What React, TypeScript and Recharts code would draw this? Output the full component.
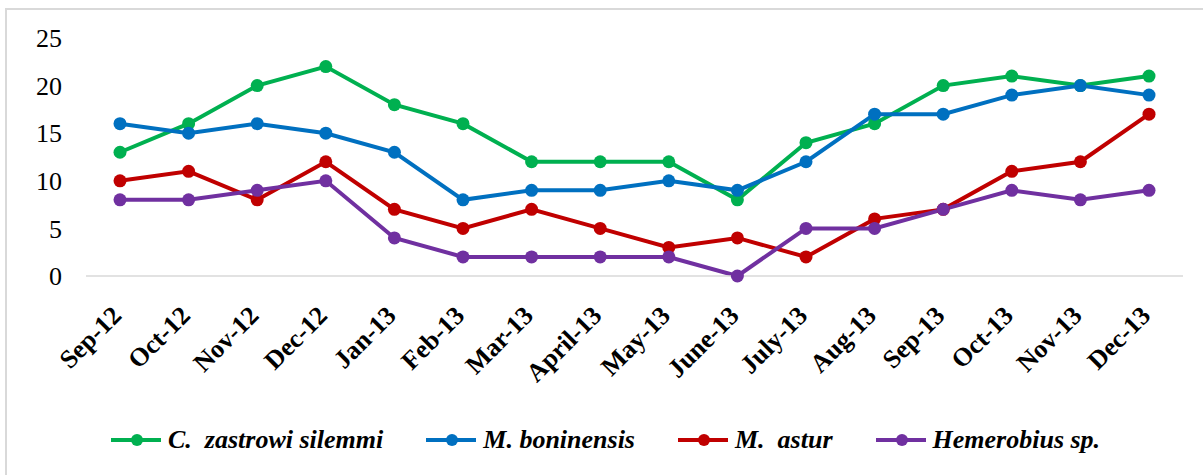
import React from "react";
import { LineChart, Line, XAxis, YAxis, Legend } from "recharts";

const months = ["Sep-12", "Oct-12", "Nov-12", "Dec-12", "Jan-13", "Feb-13", "Mar-13", "April-13", "May-13", "June-13", "July-13", "Aug-13", "Sep-13", "Oct-13", "Nov-13", "Dec-13"];
const zastrowi = [13, 16, 20, 22, 18, 16, 12, 12, 12, 8, 14, 16, 20, 21, 20, 21];
const boninensis = [16, 15, 16, 15, 13, 8, 9, 9, 10, 9, 12, 17, 17, 19, 20, 19];
const astur = [10, 11, 8, 12, 7, 5, 7, 5, 3, 4, 2, 6, 7, 11, 12, 17];
const hemerobius = [8, 8, 9, 10, 4, 2, 2, 2, 2, 0, 5, 5, 7, 9, 8, 9];
const yTicks = [0, 5, 10, 15, 20, 25];

const seriesNames = ["C.  zastrowi silemmi", "M. boninensis", "M.  astur", "Hemerobius sp."];
const seriesKeys = ["zastrowi", "boninensis", "astur", "hemerobius"];
const seriesColors = ["#00B050", "#0070C0", "#C00000", "#7030A0"];

const data = months.map((m, i) => ({
  month: m,
  zastrowi: zastrowi[i],
  boninensis: boninensis[i],
  astur: astur[i],
  hemerobius: hemerobius[i],
}));

const FONT = "Liberation Serif, Times New Roman, DejaVu Serif, serif";

const XTick = (props: any) => {
  const { x, y, payload } = props;
  return (
    <g transform={`translate(${x + 3},${y + 33})`}>
      <text
        x={0}
        y={0}
        textAnchor="end"
        transform="rotate(-45)"
        style={{ fontFamily: FONT, fontWeight: 700, fontSize: 26 }}
        fill="#000"
      >
        {payload.value}
      </text>
    </g>
  );
};

const LegendContent = () => (
  <div
    style={{
      display: "flex",
      alignItems: "center",
      height: 40,
      paddingLeft: 110,
      fontFamily: FONT,
      fontStyle: "italic",
      fontWeight: 700,
      fontSize: 26,
      color: "#000",
      whiteSpace: "nowrap",
    }}
  >
    {seriesNames.map((n, i) => (
      <div key={n} style={{ display: "flex", alignItems: "center", marginRight: 42 }}>
        <svg width={52} height={16} style={{ marginRight: 6 }}>
          <line x1={1} y1={8} x2={51} y2={8} stroke={seriesColors[i]} strokeWidth={4} />
          <circle cx={27} cy={8} r={6} fill={seriesColors[i]} />
        </svg>
        <span style={{ whiteSpace: "pre" }}>{n}</span>
      </div>
    ))}
  </div>
);

export default function App() {
  return (
    <div style={{ position: "absolute", left: 0, top: 0, width: 1203, height: 475, overflow: "hidden", background: "#fff", fontFamily: FONT }}>
      <div
        style={{
          position: "absolute",
          left: 5,
          top: 8,
          width: 1250,
          height: 520,
          border: "2px solid #d9d9d9",
          boxSizing: "border-box",
        }}
      />
      <div style={{ position: "absolute", left: 0, top: 0 }}>
        <LineChart width={1203} height={475} data={data} margin={{ top: 38, right: 20, bottom: 15, left: 0 }}>
          <XAxis
            dataKey="month"
            interval={0}
            height={144}
            tickLine={false}
            padding={{ left: 34, right: 34 }}
            axisLine={{ stroke: "#d9d9d9", strokeWidth: 1.5 }}
            tick={<XTick />}
          />
          <YAxis
            width={86}
            domain={[0, 25]}
            ticks={yTicks}
            axisLine={false}
            tickLine={false}
            tickMargin={18}
            tick={{ style: { fontFamily: FONT, fontSize: 26 }, fill: "#000" }}
          />
          <Legend verticalAlign="bottom" height={40} content={<LegendContent />} />
          {seriesKeys.map((k, i) => (
            <Line
              key={k}
              dataKey={k}
              name={seriesNames[i]}
              stroke={seriesColors[i]}
              strokeWidth={4}
              dot={{ r: 6.5, fill: seriesColors[i], stroke: seriesColors[i], strokeWidth: 0 }}
              activeDot={false}
              isAnimationActive={false}
            />
          ))}
        </LineChart>
      </div>
    </div>
  );
}
